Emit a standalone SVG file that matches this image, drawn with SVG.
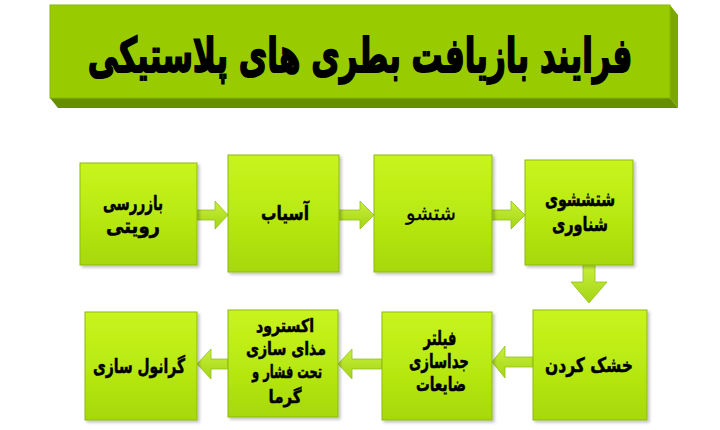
<svg xmlns="http://www.w3.org/2000/svg" width="720" height="430" viewBox="0 0 720 430">
<defs>
<linearGradient id="gBox" x1="0" y1="0" x2="0" y2="1">
<stop offset="0" stop-color="#c9f41e"/>
<stop offset="0.5" stop-color="#b9ea12"/>
<stop offset="1" stop-color="#a6d80c"/>
</linearGradient>
<linearGradient id="gArr" x1="0" y1="0" x2="0" y2="1">
<stop offset="0" stop-color="#c8f03a"/>
<stop offset="1" stop-color="#a4d414"/>
</linearGradient>
<filter id="sh" x="-10%" y="-10%" width="130%" height="130%">
<feDropShadow dx="2" dy="2" stdDeviation="1.5" flood-color="#000" flood-opacity="0.25"/>
</filter>
</defs>
<style>
.box{fill:url(#gBox);stroke:#8cba10;stroke-width:1;filter:url(#sh)}
.arr{fill:url(#gArr);stroke:#90c020;stroke-width:0.8}
.t{font-family:"DejaVu Sans",sans-serif;font-weight:bold;font-size:20px;fill:#000;stroke:#000;stroke-width:0.5;text-anchor:middle}
.s{font-size:18px}
.title{font-family:"DejaVu Sans",sans-serif;font-weight:bold;font-size:48px;fill:#000;stroke:#000;stroke-width:1.8;text-anchor:middle}
</style>
<rect width="720" height="430" fill="#ffffff"/>
<g id="title">
<polygon points="670,98 678,108 678,15 670,5" fill="#7ba800"/>
<polygon points="50,98 670,98 678,108 58,108" fill="#668f00"/>
<rect x="50" y="5" width="620" height="93" fill="#99cc00" stroke="#88b800" stroke-width="1"/>
<text class="title" transform="translate(360,72) scale(0.65,1)" x="0" y="0" textLength="838" lengthAdjust="spacingAndGlyphs">فرایند بازیافت بطری های پلاستیکی</text>
</g>
<g id="connectors">
<polygon class="arr" points="197,210 215,210 215,201 228,215 215,229 215,220 197,220"/>
<polygon class="arr" points="339,210 360,210 360,201 374,215 360,229 360,220 339,220"/>
<polygon class="arr" points="492,210 511,210 511,201 525,215 511,229 511,220 492,220"/>
<polygon class="arr" points="583,265 595,265 595,282 607,282 589,303 571,282 583,282"/>
<polygon class="arr" points="533,357 505,357 505,346 492,362 505,378 505,367 533,367"/>
<polygon class="arr" points="382,359 352,359 352,349 338,364 352,379 352,369 382,369"/>
<polygon class="arr" points="228,359 211,359 211,349 197,364 211,379 211,369 228,369"/>
</g>
<g id="n1">
<rect class="box" x="80" y="163" width="117" height="102"/>
<text class="t" x="133" y="210" textLength="60" lengthAdjust="spacingAndGlyphs">بازررسی</text>
<text class="t" x="133" y="233" textLength="54" lengthAdjust="spacingAndGlyphs">رویتی</text>
</g>
<g id="n2">
<rect class="box" x="228" y="155" width="111" height="117"/>
<text class="t" x="285" y="220" textLength="48" lengthAdjust="spacingAndGlyphs">آسیاب</text>
</g>
<g id="n3">
<rect class="box" x="374" y="155" width="118" height="117"/>
<text class="t" x="431" y="220" textLength="50" lengthAdjust="spacingAndGlyphs" style="font-weight:normal;stroke-width:0.3">شتشو</text>
</g>
<g id="n4">
<rect class="box" x="525" y="160" width="108" height="105"/>
<text class="t" x="580" y="206" textLength="70" lengthAdjust="spacingAndGlyphs">شتششوی</text>
<text class="t" x="580" y="231" textLength="56" lengthAdjust="spacingAndGlyphs">شناوری</text>
</g>
<g id="n5">
<rect class="box" x="533" y="310" width="114" height="110"/>
<text class="t" x="589" y="372" textLength="88" lengthAdjust="spacingAndGlyphs">خشک کردن</text>
</g>
<g id="n6">
<rect class="box" x="382" y="312" width="110" height="108"/>
<text class="t" x="440" y="345" textLength="33" lengthAdjust="spacingAndGlyphs">فیلتر</text>
<text class="t" x="439" y="368" textLength="60" lengthAdjust="spacingAndGlyphs">جداسازی</text>
<text class="t" x="441" y="391" textLength="50" lengthAdjust="spacingAndGlyphs">ضایعات</text>
</g>
<g id="n7">
<rect class="box" x="228" y="310" width="110" height="107"/>
<text class="t s" x="285" y="332" textLength="58" lengthAdjust="spacingAndGlyphs">اکسترود</text>
<text class="t s" x="286" y="355" textLength="80" lengthAdjust="spacingAndGlyphs">مذای سازی</text>
<text class="t s" x="287" y="378" textLength="70" lengthAdjust="spacingAndGlyphs">تحت فشار و</text>
<text class="t s" x="285" y="403" textLength="33" lengthAdjust="spacingAndGlyphs">گرما</text>
</g>
<g id="n8">
<rect class="box" x="85" y="312" width="112" height="108"/>
<text class="t" x="139" y="373" textLength="92" lengthAdjust="spacingAndGlyphs">گرانول سازی</text>
</g>
</svg>
